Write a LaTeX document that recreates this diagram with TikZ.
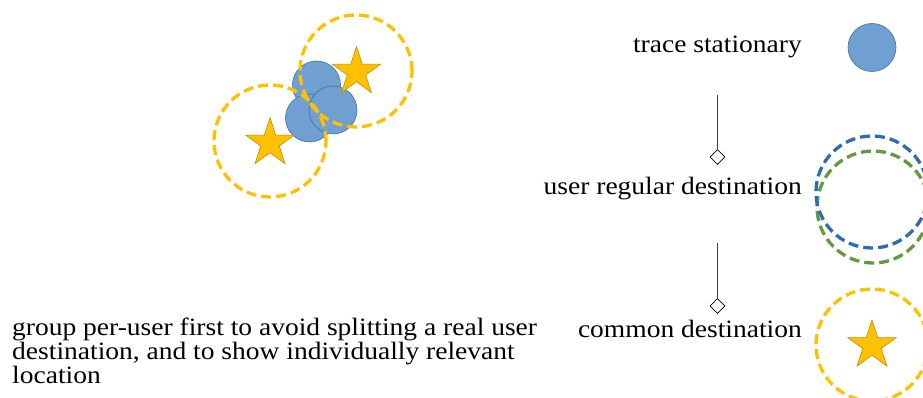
\documentclass[tikz,border=0pt]{standalone}
\usepackage{fontspec}
\setmainfont{Liberation Serif}[FakeStretch=1.1]
\usetikzlibrary{shapes.geometric}
\definecolor{gold}{RGB}{255,192,0}
\definecolor{goldline}{RGB}{191,144,0}
\definecolor{dotfill}{RGB}{112,159,210}
\definecolor{dotline}{RGB}{65,113,156}
\definecolor{userblue}{RGB}{46,108,178}
\definecolor{usergreen}{RGB}{100,154,60}
\definecolor{stemgray}{RGB}{64,64,64}
\tikzset{
  dot/.style={circle, fill=dotfill, draw=dotline, line width=0.6pt, minimum size=48pt, inner sep=0pt},
  zone/.style={circle, draw=#1, line width=3.3pt, dash pattern=on 10pt off 5pt, minimum size=112pt, inner sep=0pt},
  starmark/.style={star, star points=5, star point ratio=2.618, fill=gold, draw=goldline, line width=0.6pt, minimum size=51pt, inner sep=0pt},
  label/.style={font=\fontsize{25pt}{24pt}\selectfont, inner sep=0pt},
  stem/.style={draw=stemgray, line width=0.8pt},
  tipbox/.style={diamond, draw=black, fill=white, line width=0.7pt, minimum size=15pt, inner sep=0pt}
}
\begin{document}
\begin{tikzpicture}[x=1pt, y=-1pt]
\useasboundingbox (0,0) rectangle (923,398);

% cluster of stationary traces with two common destinations
\node[dot] (s1) at (316.5,85) {};
\node[dot] (s2) at (309.5,118) {};
\node[dot] (s3) at (333,110) {};
\node[zone=gold] (z1) at (270,141) {};
\node[zone=gold] (z2) at (356,71) {};
\node[starmark] (st1) at (270,143) {};
\node[starmark] (st2) at (356.5,72) {};

% legend
\node[label, anchor=base east] (l1) at (802,53) {trace stationary};
\node[dot] (k1) at (872,47.5) {};

\coordinate (c1) at (717.5,95);
\node[tipbox] (d1) at (717.5,157) {};
\draw[stem] (c1) -- (d1);

\node[label, anchor=base east] (l2) at (802,194) {user regular destination};
\node[zone=usergreen] (k2b) at (873,207) {};
\node[zone=userblue] (k2a) at (872,192) {};

\coordinate (c2) at (717.5,243);
\node[tipbox] (d2) at (717.5,306) {};
\draw[stem] (c2) -- (d2);

\node[label, anchor=base east] (l3) at (802,337) {common destination};
\node[zone=gold] (k3) at (872,345) {};
\node[starmark] (k3s) at (872,345.5) {};

% note (base anchor sits on the last line)
\node[label, anchor=base west, align=left] (note) at (12,383)
  {group per-user first to avoid splitting a real user\\
   destination, and to show individually relevant\\
   location};
\end{tikzpicture}
\end{document}
